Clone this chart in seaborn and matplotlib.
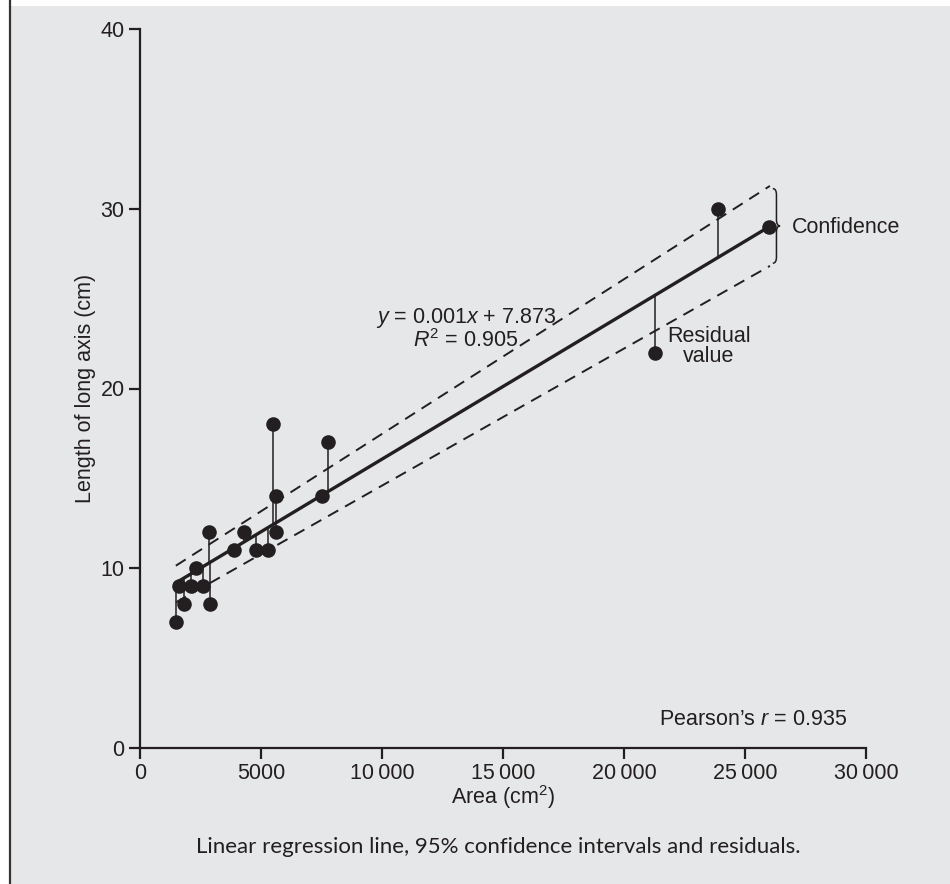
import numpy as np
import pandas as pd
import matplotlib
matplotlib.use("Agg")
import matplotlib.pyplot as plt
import seaborn as sns
from matplotlib.path import Path
from matplotlib.patches import PathPatch, Rectangle
from matplotlib.lines import Line2D

# ---------------- data ----------------
area = [1500, 1600, 1800, 2100, 2300, 2600, 2850, 2900, 3900, 4300,
        4800, 5300, 5500, 5600, 5600, 7500, 7750, 21300, 23900, 26000]
length = [7, 9, 8, 9, 10, 9, 12, 8, 11, 12,
          11, 11, 18, 14, 12, 14, 17, 22, 30, 29]
# regression line and 95% confidence limits (end points)
line_x = [1450, 26000]
line_fit = [9.16, 29.0]
ci_x = [1480, 26030]
ci_upper = [10.14, 31.27]
ci_lower = [8.1, 26.82]
x_ticks = [0, 5000, 10000, 15000, 20000, 25000, 30000]
x_tick_labels = ["0", "5000", "10\u2009000", "15\u2009000", "20\u2009000", "25\u2009000", "30\u2009000"]
y_ticks = [0, 10, 20, 30, 40]
eq_text = r"$y$ = 0.001$x$ + 7.873" + "\n" + r"$R^2$ = 0.905"
pearson_text = r"Pearson’s $r$ = 0.935"
caption = "Linear regression line, 95% confidence intervals and residuals."

INK = "#231f20"
BG = "#e6e7e8"

sns.set_theme(style="ticks")
plt.rcParams["font.family"] = ["Liberation Sans", "DejaVu Sans"]
plt.rcParams["mathtext.fontset"] = "custom"
plt.rcParams["mathtext.rm"] = "Liberation Sans"
plt.rcParams["mathtext.it"] = "Liberation Sans:italic"
plt.rcParams["text.color"] = INK

df = pd.DataFrame({"area": area, "length": length})
slope = (line_fit[1] - line_fit[0]) / (line_x[1] - line_x[0])
intercept = line_fit[0] - slope * line_x[0]
df["fit"] = intercept + slope * df["area"]
fit_df = pd.DataFrame({"x": line_x, "y": line_fit})
up_df = pd.DataFrame({"x": ci_x, "y": ci_upper})
lo_df = pd.DataFrame({"x": ci_x, "y": ci_lower})

fig = plt.figure(figsize=(9.5, 8.84), dpi=100)
fig.patch.set_facecolor("white")
fig.patches.append(Rectangle((10 / 950, 0), 1, 1 - 6 / 884, transform=fig.transFigure,
                             facecolor=BG, edgecolor="none", zorder=-10))
fig.lines.append(Line2D([9.5 / 950, 9.5 / 950], [0, 1], transform=fig.transFigure,
                        color="#333333", lw=1.6))

ax = fig.add_axes([140 / 950, 1 - 748 / 884, 726 / 950, 719 / 884])
ax.set_facecolor("none")

# residual stems
ax.vlines(df["area"], df["fit"], df["length"], color=INK, lw=1.1, zorder=2)
# CI dashed lines
sns.lineplot(data=up_df, x="x", y="y", ax=ax, color=INK, lw=1.4, linestyle=(0, (6, 4)), zorder=2)
sns.lineplot(data=lo_df, x="x", y="y", ax=ax, color=INK, lw=1.4, linestyle=(0, (6, 4)), zorder=2)
# regression line
sns.lineplot(data=fit_df, x="x", y="y", ax=ax, color=INK, lw=2.4, zorder=3)
# points
sns.scatterplot(data=df, x="area", y="length", ax=ax, color=INK, s=110, edgecolor=INK,
                linewidth=0, zorder=4)

ax.set_xlim(0, 30000)
ax.set_ylim(0, 40)
ax.set_xticks(x_ticks)
ax.set_xticklabels(x_tick_labels)
ax.set_yticks(y_ticks)
sns.despine(ax=ax)
for sp in ["left", "bottom"]:
    ax.spines[sp].set_color(INK)
    ax.spines[sp].set_linewidth(1.6)
ax.tick_params(axis="both", direction="out", length=8, width=1.6, color=INK,
               labelsize=15.5, labelcolor=INK, pad=3)

ax.set_xlabel("Area (cm$^2$)", fontsize=15.5, color=INK, labelpad=-1)
ax.set_ylabel("Length of long axis (cm)", fontsize=15.5, color=INK, labelpad=3)

# annotations
ax.text(13470, 23.3, eq_text, ha="center", va="center", fontsize=15.5, linespacing=0.95)
ax.text(23500, 22.35, "Residual\nvalue", ha="center", va="center", fontsize=15.5, linespacing=0.95)
ax.text(26950, 28.93, "Confidence", ha="left", va="center", fontsize=15.5)
ax.text(21450, 1.61, pearson_text, ha="left", va="center", fontsize=15.5)

# curly brace for confidence
bx = 26150
top, bot = ci_upper[-1] - 0.15, ci_lower[-1] + 0.15
mid = (top + bot) / 2
w = 300
c = 0.35
verts = [(bx, top), (bx + w / 2, top), (bx + w / 2, top - c),
         (bx + w / 2, mid + c), (bx + w / 2, mid), (bx + w, mid),
         (bx + w / 2, mid), (bx + w / 2, mid - c),
         (bx + w / 2, bot + c), (bx + w / 2, bot), (bx, bot)]
codes = [Path.MOVETO, Path.CURVE3, Path.CURVE3,
         Path.LINETO, Path.CURVE3, Path.CURVE3,
         Path.CURVE3, Path.CURVE3,
         Path.LINETO, Path.CURVE3, Path.CURVE3]
ax.add_patch(PathPatch(Path(verts, codes), facecolor="none", edgecolor=INK, lw=1.1, clip_on=False))

fig.text(498 / 950, 1 - 847 / 884, caption, ha="center", va="center", fontsize=16,
         family=["Lato", "Liberation Sans", "DejaVu Sans"], color=INK)

fig.savefig("out.png", dpi=100, facecolor=fig.get_facecolor())
